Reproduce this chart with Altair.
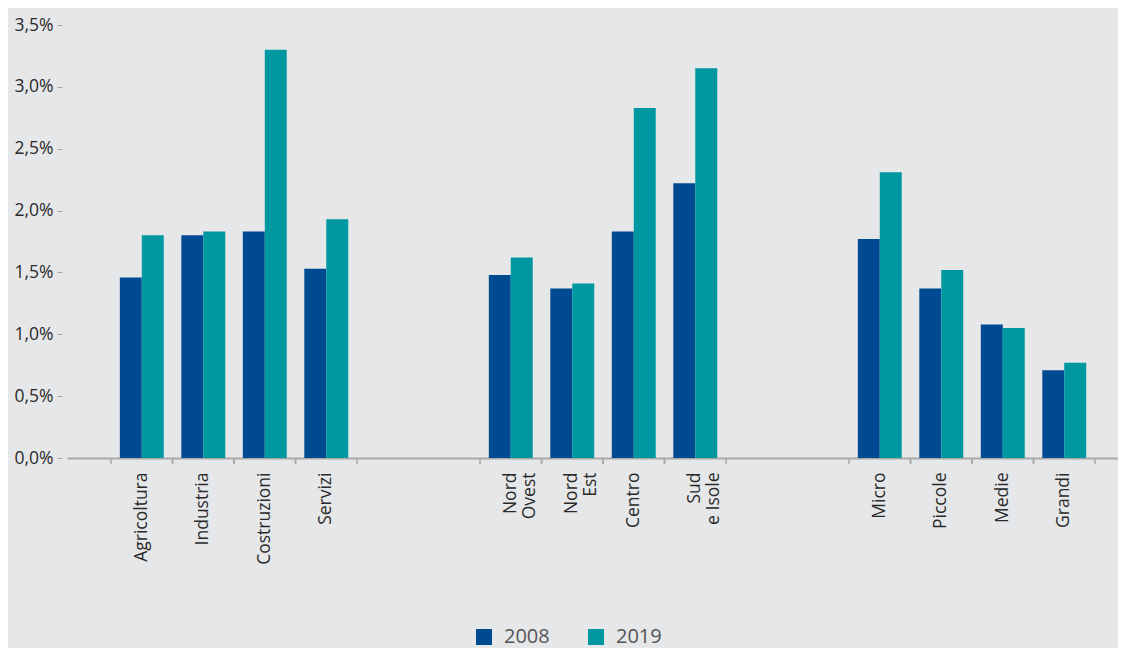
import altair as alt
import pandas as pd

# Categories (with spacer slots between the three groups)
settori = ["Agricoltura", "Industria", "Costruzioni", "Servizi"]
aree = ["Nord\nOvest", "Nord\nEst", "Centro", "Sud\ne Isole"]
dimensioni = ["Micro", "Piccole", "Medie", "Grandi"]
spacers_1 = ["_s1", "_s2"]
spacers_2 = ["_s3", "_s4"]
years = ["2008", "2019"]

# Values in percent
settori_2008 = [1.46, 1.80, 1.83, 1.53]
settori_2019 = [1.80, 1.83, 3.30, 1.93]
aree_2008 = [1.48, 1.37, 1.83, 2.22]
aree_2019 = [1.62, 1.41, 2.83, 3.15]
dim_2008 = [1.77, 1.37, 1.08, 0.71]
dim_2019 = [2.31, 1.52, 1.05, 0.77]

y_ticks = [0, 0.5, 1.0, 1.5, 2.0, 2.5, 3.0, 3.5]

real_cats = settori + aree + dimensioni
domain = settori + spacers_1 + aree + spacers_2 + dimensioni

rows = []
for cats, v08, v19 in [(settori, settori_2008, settori_2019),
                       (aree, aree_2008, aree_2019),
                       (dimensioni, dim_2008, dim_2019)]:
    for c, a, b in zip(cats, v08, v19):
        rows.append({"cat": c, "anno": "2008", "val": a})
        rows.append({"cat": c, "anno": "2019", "val": b})
df = pd.DataFrame(rows)
ticks_df = pd.DataFrame({"cat": real_cats})

BG = "#e6e7e9"
BLUE = "#004a91"
TEAL = "#0098a0"
GRAY = "#a9a9a9"
FONT = "Open Sans"

x_scale = alt.Scale(domain=domain, paddingInner=0, paddingOuter=0.545, align=0.657)

bars = alt.Chart(df).mark_bar().encode(
    x=alt.X(
        "cat:N",
        scale=x_scale,
        sort=domain,
        axis=alt.Axis(
            title=None,
            values=real_cats,
            ticks=False,
            labelAngle=270,
            labelAlign="right",
            labelBaseline="middle",
            labelPadding=14,
            labelFontSize=17.5,
            labelFont=FONT,
            labelColor="#2a2a2a",
            labelLineHeight=19,
            labelExpr="split(datum.label, '\\n')",
            domainColor=GRAY,
            domainWidth=2,
        ),
    ),
    xOffset=alt.XOffset("anno:N", scale=alt.Scale(paddingInner=0, paddingOuter=0.4)),
    y=alt.Y(
        "val:Q",
        scale=alt.Scale(domain=[0, 3.5], nice=False),
        axis=alt.Axis(
            title=None,
            values=y_ticks,
            domain=False,
            grid=False,
            tickColor=GRAY,
            tickSize=5,
            tickWidth=1,
            offset=5,
            labelPadding=4,
            labelFontSize=17.5,
            labelFont=FONT,
            labelColor="#2a2a2a",
            labelExpr="replace(format(datum.value, '.1f'), '.', ',') + '%'",
        ),
    ),
    color=alt.Color(
        "anno:N",
        scale=alt.Scale(domain=years, range=[BLUE, TEAL]),
        legend=alt.Legend(
            title=None,
            orient="none",
            direction="horizontal",
            legendX=407,
            legendY=602,
            symbolType="square",
            symbolSize=256,
            symbolStrokeWidth=0,
            labelFontSize=20,
            labelFont=FONT,
            labelColor="#555555",
            labelOffset=10,
            columnPadding=36,
        ),
    ),
)

tick_marks_start = alt.Chart(ticks_df).mark_rule(color=GRAY, strokeWidth=1.5).encode(
    x=alt.X("cat:N", scale=x_scale, sort=domain, bandPosition=0),
    y=alt.value(434),
    y2=alt.value(439),
)
tick_marks_end = alt.Chart(ticks_df).mark_rule(color=GRAY, strokeWidth=1.5).encode(
    x=alt.X("cat:N", scale=x_scale, sort=domain, bandPosition=1),
    y=alt.value(434),
    y2=alt.value(439),
)

chart = alt.layer(bars, tick_marks_start, tick_marks_end).properties(
    width=1051,
    height=433,
    background=BG,
    padding={"left": 59, "top": 17, "right": 0, "bottom": 190},
    autosize=alt.AutoSizeParams(type="none"),
).configure_view(stroke=None)

chart.save("out.html", embed_options={"renderer": "svg", "actions": False})
